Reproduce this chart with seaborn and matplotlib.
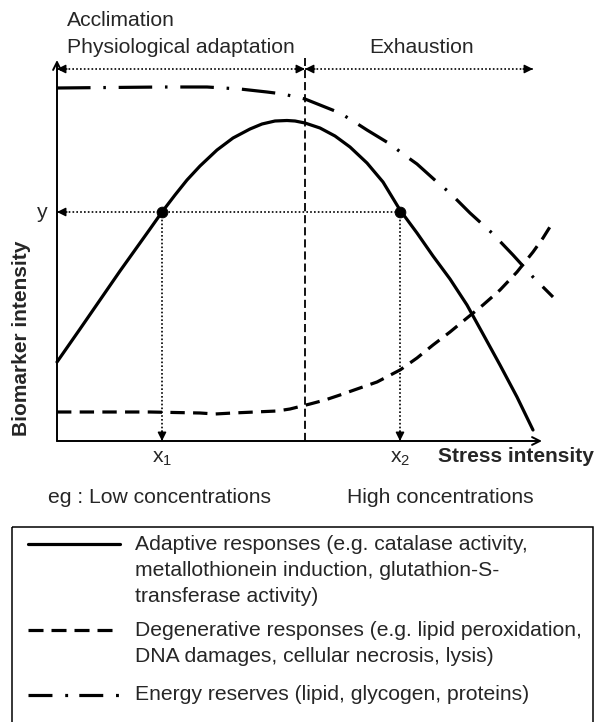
import numpy as np
import pandas as pd
import matplotlib
matplotlib.use("Agg")
import matplotlib.pyplot as plt
from matplotlib.patches import Rectangle
import seaborn as sns

# curves (x: stress intensity, y: biomarker intensity, arbitrary units)
adaptive_x = [0, 23, 43, 63, 83, 93, 105, 118, 130, 143, 160, 176, 193, 205, 218, 230, 238, 248,
              263, 278, 293, 310, 326, 343, 360, 376, 393, 410, 426, 443, 460, 476]
adaptive_y = [79, 112, 141, 170, 198, 212, 229, 246, 261, 275, 291, 303, 312, 317, 320, 320.5, 320, 318,
              313, 305, 294, 278, 259, 231, 208, 185, 162, 136, 107, 76, 44, 11]

degen_x = [0, 43, 93, 143, 158, 176, 198, 220, 233, 243, 253, 268, 283, 300, 320, 343, 360, 376,
           393, 410, 426, 443, 460, 476, 486, 496]
degen_y = [29, 29, 29, 28, 27, 28, 29, 30, 32, 34.5, 37, 41, 46, 52, 59, 71, 83, 96,
           109, 123, 136, 151, 169, 189, 203, 219]

energy_x = [0, 53, 106, 150, 183, 210, 226, 248, 268, 283, 296, 310, 333, 346, 360, 380, 393, 413,
            435, 456, 476, 496]
energy_y = [353, 353.5, 354, 354, 352, 349, 347, 342, 334, 328, 320, 311, 297, 287, 277, 259, 248, 228,
            208, 186, 164, 144]

x1, x2, y_level = 105, 343, 229
threshold = 248
x_axis_end, y_axis_end = 485, 381
phase_y, phase_end = 372, 476

legend_labels = [
    "Adaptive responses (e.g. catalase activity,\nmetallothionein induction, glutathion-S-\ntransferase activity)",
    "Degenerative responses (e.g. lipid peroxidation,\nDNA damages, cellular necrosis, lysis)",
    "Energy reserves (lipid, glycogen, proteins)",
]

sns.set_style("white")
plt.rcParams['font.family'] = ['Liberation Sans', 'DejaVu Sans']
plt.rcParams['mathtext.fontset'] = 'custom'
plt.rcParams['mathtext.rm'] = 'Liberation Sans'
plt.rcParams['mathtext.it'] = 'Liberation Sans'

W, H = 598, 722
fig = plt.figure(figsize=(W / 100, H / 100), dpi=100)
ax = fig.add_axes([57 / W, (H - 441) / H, 503 / W, 383 / H])
ax.set_xlim(0, 503)
ax.set_ylim(0, 383)
ax.axis('off')

solid_ls = '-'
dash_ls = (0, (4.5, 2.6))
dashdot_ls = (0, (10.5, 4, 0.8, 4))
LW = 2.3

sns.lineplot(x=adaptive_x, y=adaptive_y, ax=ax, color='black', lw=LW, linestyle=solid_ls, clip_on=False)
sns.lineplot(x=degen_x, y=degen_y, ax=ax, color='black', lw=LW, linestyle=dash_ls, clip_on=False)
sns.lineplot(x=energy_x, y=energy_y, ax=ax, color='black', lw=LW, linestyle=dashdot_ls, clip_on=False)

pts = pd.DataFrame({"x": [x1, x2], "y": [y_level, y_level]})
sns.scatterplot(data=pts, x="x", y="y", ax=ax, color='black', s=60, zorder=5, clip_on=False, edgecolor='black')


def dotted_arrow(start, tip, heads=1):
    ax.plot([start[0], tip[0]], [start[1], tip[1]], color='black', lw=1.2,
            linestyle=(0, (1, 1.3)), clip_on=False)
    pairs = [(start, tip)] if heads == 1 else [(start, tip), (tip, start)]
    for a, b in pairs:
        d = np.array(b, float) - np.array(a, float)
        d /= np.hypot(*d)
        back = (b[0] - d[0] * 10, b[1] - d[1] * 10)
        ax.annotate('', xy=b, xytext=back,
                    arrowprops=dict(arrowstyle='-|>', color='black', lw=1,
                                    mutation_scale=13, shrinkA=0, shrinkB=0),
                    annotation_clip=False)


# axes with open arrow heads
for tip in [(0, y_axis_end), (x_axis_end, 0)]:
    ax.annotate('', xy=tip, xytext=(0, 0),
                arrowprops=dict(arrowstyle='->', color='black', lw=1.4, mutation_scale=14,
                                shrinkA=0, shrinkB=0), annotation_clip=False)

# threshold separator
ax.plot([threshold, threshold], [0, 383], color='black', lw=1.3,
        linestyle=(0, (4.5, 2.2)), clip_on=False)

# phase arrows
dotted_arrow((0, phase_y), (threshold, phase_y), heads=2)
dotted_arrow((threshold, phase_y), (phase_end, phase_y), heads=2)

# reading arrows
dotted_arrow((x2, y_level), (0, y_level))
dotted_arrow((x1, y_level), (x1, 0))
dotted_arrow((x2, y_level), (x2, 0))

# overlay in pixel coords for annotations and legend
ov = fig.add_axes([0, 0, 1, 1], zorder=-1)
ov.set_xlim(0, W)
ov.set_ylim(H, 0)
ov.axis('off')

fs = 15.2
ov.text(67, 26, "Acclimation", fontsize=fs, va='baseline')
ov.text(67, 53, "Physiological adaptation", fontsize=fs, va='baseline')
ov.text(369, 53, "Exhaustion", fontsize=fs, va='baseline')
ov.text(42, 212, "y", fontsize=fs, ha='center', va='center')
ov.text(22, 338, "Biomarker intensity", fontsize=15, fontweight='bold',
        rotation=90, ha='center', va='center')
ax.text(x1, -17, r"x$_\mathrm{1}$", fontsize=fs, ha='center', va='center')
ax.text(x2, -17, r"x$_\mathrm{2}$", fontsize=fs, ha='center', va='center')
ov.text(438, 456, "Stress intensity", fontsize=15, fontweight='bold', va='center')
ov.text(48, 503, "eg : Low concentrations", fontsize=fs, va='baseline')
ov.text(347, 503, "High concentrations", fontsize=fs, va='baseline')

# legend
ov.add_patch(Rectangle((12, 527), 581, 220, fill=False, edgecolor='black', lw=1.1))
handle_styles = [solid_ls, (0, (4.7, 2.5)), (0, (7.5, 4, 0.9, 3.5))]
row_y = [544, 630, 695]
for ls, ry, lab in zip(handle_styles, row_y, legend_labels):
    ov.plot([28, 120], [ry, ry], color='black', lw=LW, linestyle=ls)
    for i, line in enumerate(lab.split("\n")):
        ov.text(135, ry + i * 26.5, line, fontsize=fs, va='center')

fig.savefig("out.png", dpi=100)
